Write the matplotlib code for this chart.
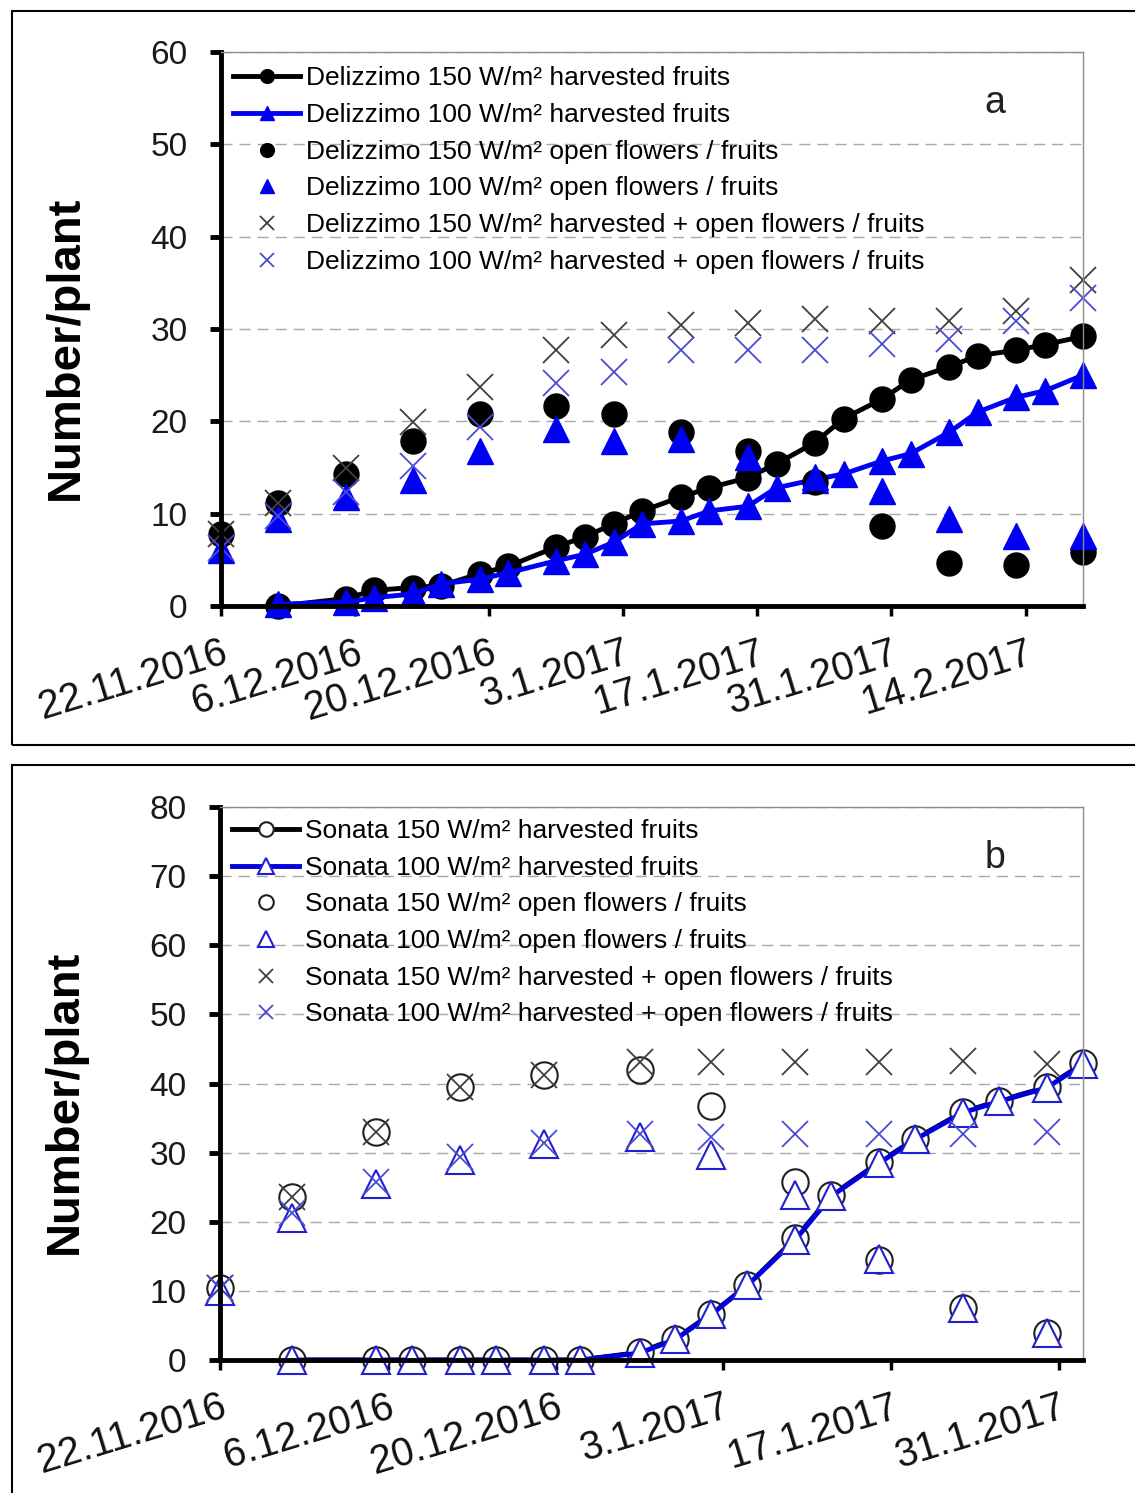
import numpy as np
import matplotlib.pyplot as plt
from matplotlib.patches import Rectangle
from datetime import datetime, timedelta

plt.rcParams['font.family'] = ['Liberation Sans', 'DejaVu Sans']

# ---- data, panel a (Delizzimo) ----
a_line_dates = ['28.11.2016', '5.12.2016', '8.12.2016', '12.12.2016', '15.12.2016', '19.12.2016',
                '22.12.2016', '27.12.2016', '30.12.2016', '2.1.2017', '5.1.2017', '9.1.2017',
                '12.1.2017', '16.1.2017', '19.1.2017', '23.1.2017', '26.1.2017', '30.1.2017',
                '2.2.2017', '6.2.2017', '9.2.2017', '13.2.2017', '16.2.2017', '20.2.2017']
a_harv_150 = [0, 0.8, 1.7, 2.0, 2.2, 3.5, 4.3, 6.4, 7.5, 8.9, 10.3, 11.8,
              12.8, 13.9, 15.4, 17.7, 20.3, 22.4, 24.5, 25.9, 27.1, 27.7, 28.3, 29.2]
a_harv_100 = [0.2, 0.4, 0.9, 1.3, 2.4, 2.9, 3.6, 4.9, 5.6, 6.9, 8.9, 9.2,
              10.3, 10.8, 12.8, 13.7, 14.3, 15.7, 16.5, 18.8, 21.0, 22.6, 23.3, 25.0]
a_scat_dates = ['22.11.2016', '28.11.2016', '5.12.2016', '12.12.2016', '19.12.2016', '27.12.2016',
                '2.1.2017', '9.1.2017', '16.1.2017', '23.1.2017', '30.1.2017', '6.2.2017',
                '13.2.2017', '20.2.2017']
a_open_150 = [7.8, 11.2, 14.3, 17.9, 20.8, 21.7, 20.8, 18.8, 16.8, 13.4, 8.7, 4.7, 4.4, 5.8]
a_open_100 = [6.1, 9.4, 11.8, 13.7, 16.8, 19.2, 17.9, 18.1, 16.1, 14.0, 12.5, 9.4, 7.6, 7.6]
a_tot_150 = [7.8, 11.2, 15.0, 19.9, 23.7, 27.7, 29.3, 30.4, 30.7, 31.1, 30.9, 30.9, 32.0, 35.3]
a_tot_100 = [6.3, 9.7, 12.3, 15.2, 19.4, 24.2, 25.3, 27.7, 27.7, 27.7, 28.4, 28.9, 30.9, 33.4]

# ---- data, panel b (Sonata) ----
b_line_dates = a_line_dates[:19]
b_harv_150 = [0, 0, 0, 0, 0, 0, 0, 1.1, 3.1, 6.7, 10.8, 17.6, 23.8, 28.6, 32.0, 35.9, 37.5, 39.5, 42.9]
b_harv_100 = [0, 0, 0, 0, 0, 0, 0, 1.0, 3.0, 6.6, 10.8, 17.4, 23.7, 28.5, 31.9, 35.8, 37.4, 39.4, 42.8]
b_scat_dates = a_scat_dates[:11]
b_open_150 = [10.4, 23.6, 33.0, 39.5, 41.2, 41.9, 36.7, 25.8, 14.4, 7.5, 3.9]
b_open_100 = [10.0, 20.5, 25.5, 28.9, 31.3, 32.2, 29.6, 23.8, 14.6, 7.5, 3.9]
b_tot_150 = [10.4, 23.6, 33.0, 39.5, 41.2, 43.1, 43.1, 43.1, 43.1, 43.3, 42.8]
b_tot_100 = [10.4, 21.2, 25.8, 29.3, 31.4, 32.7, 32.2, 32.7, 32.7, 32.7, 33.0]

labels_a = ['Delizzimo 150 W/m² harvested fruits', 'Delizzimo 100 W/m² harvested fruits',
            'Delizzimo 150 W/m² open flowers / fruits', 'Delizzimo 100 W/m² open flowers / fruits',
            'Delizzimo 150 W/m² harvested + open flowers / fruits',
            'Delizzimo 100 W/m² harvested + open flowers / fruits']
labels_b = [s.replace('Delizzimo', 'Sonata') for s in labels_a]


def to_dt(lst):
    return [datetime.strptime(s, '%d.%m.%Y') for s in lst]


start = datetime(2016, 11, 22)

fig = plt.figure(figsize=(11.35, 14.93), dpi=100)

# panel frames
fig.patches.append(Rectangle((12 / 1135, 1 - 745 / 1493), 1.05, 734 / 1493, transform=fig.transFigure,
                             fill=False, lw=1.5, ec='black'))
fig.patches.append(Rectangle((12 / 1135, -0.05), 1.05, 1 - 765 / 1493 + 0.05, transform=fig.transFigure,
                             fill=False, lw=1.5, ec='black'))

ax_a = fig.add_axes([221 / 1135, 1 - 606 / 1493, 862 / 1135, 554 / 1493])
ax_b = fig.add_axes([220 / 1135, 1 - 1360 / 1493, 863 / 1135, 553 / 1493])


def style(ax, ymax, ndays, nticks, letter):
    ax.set_ylim(0, ymax)
    ax.set_xlim(start, start + timedelta(days=ndays))
    ax.set_yticks(np.arange(0, ymax + 1, 10))
    ax.yaxis.grid(True, linestyle=(0, (8, 5)), color='#a8a8a8', lw=1)
    ax.set_axisbelow(True)
    for s in ['top', 'right']:
        ax.spines[s].set_color('#8c8c8c')
        ax.spines[s].set_linewidth(1)
    for s in ['left', 'bottom']:
        ax.spines[s].set_linewidth(3.5)
    ax.tick_params(axis='y', direction='out', length=8, width=3.5, pad=16, labelsize=24, labelcolor='#1a1a1a')
    ax.tick_params(axis='x', direction='out', length=7, width=2.5, pad=13)
    ticks = [start + timedelta(days=14 * k) for k in range(nticks)]
    ax.set_xticks(ticks)
    ax.set_xticklabels([f'{t.day}.{t.month}.{t.year}' for t in ticks], rotation=17, ha='right', va='top',
                       rotation_mode='anchor', fontsize=28.5, color='#111111')
    ax.set_ylabel('Number/plant', fontsize=34, fontweight='bold')
    ax.yaxis.set_label_coords(-0.154, 0.466)
    ax.text(0.898, 0.908, letter, transform=ax.transAxes, fontsize=27, ha='center', va='center', color='#222222')


def legend(ax, y):
    ax.legend(loc='upper left', bbox_to_anchor=(12 / 862, y), frameon=False, fontsize=19, markerscale=0.55,
              handlelength=2.55, handletextpad=0.2, labelspacing=0.48, borderpad=0, borderaxespad=0)


# ---- panel a ----
ax = ax_a
ax.plot(to_dt(a_line_dates), a_harv_150, '-o', color='black', lw=3.5, ms=18, clip_on=False, label=labels_a[0])
ax.plot(to_dt(a_line_dates), a_harv_100, '-^', color='#0000f5', lw=3.5, ms=19, clip_on=False, label=labels_a[1])
ax.plot(to_dt(a_scat_dates), a_open_150, 'o', color='black', ms=18, clip_on=False, label=labels_a[2])
ax.plot(to_dt(a_scat_dates), a_open_100, '^', color='#0000f5', ms=19, clip_on=False, label=labels_a[3])
ax.plot(to_dt(a_scat_dates), a_tot_150, 'x', color='#404040', ms=19, mew=1.3, clip_on=False, label=labels_a[4])
ax.plot(to_dt(a_scat_dates), a_tot_100, 'x', color='#4a4ad8', ms=19, mew=1.3, clip_on=False, label=labels_a[5])
style(ax, 60, 90, 7, 'a')
legend(ax, 0.974)

# ---- panel b ----
ax = ax_b
ax.plot(to_dt(b_line_dates), b_harv_150, '-o', color='black', mfc='white', mec='#202020', mew=1.5,
        lw=3.5, ms=19, clip_on=False, label=labels_b[0])
ax.plot(to_dt(b_line_dates), b_harv_100, '-^', color='#0000dd', mfc='white', mec='#2020d0', mew=1.5,
        lw=3.5, ms=20, clip_on=False, label=labels_b[1])
ax.plot(to_dt(b_scat_dates), b_open_150, 'o', mfc='white', mec='#202020', mew=1.5, ms=19, clip_on=False,
        label=labels_b[2])
ax.plot(to_dt(b_scat_dates), b_open_100, '^', mfc='white', mec='#2020d0', mew=1.5, ms=20, clip_on=False,
        label=labels_b[3])
ax.plot(to_dt(b_scat_dates), b_tot_150, 'x', color='#404040', ms=19, mew=1.3, clip_on=False, label=labels_b[4])
ax.plot(to_dt(b_scat_dates), b_tot_100, 'x', color='#4a4ad8', ms=19, mew=1.3, clip_on=False, label=labels_b[5])
style(ax, 80, 72, 6, 'b')
legend(ax, 0.978)

fig.savefig('out.png', dpi=100)
